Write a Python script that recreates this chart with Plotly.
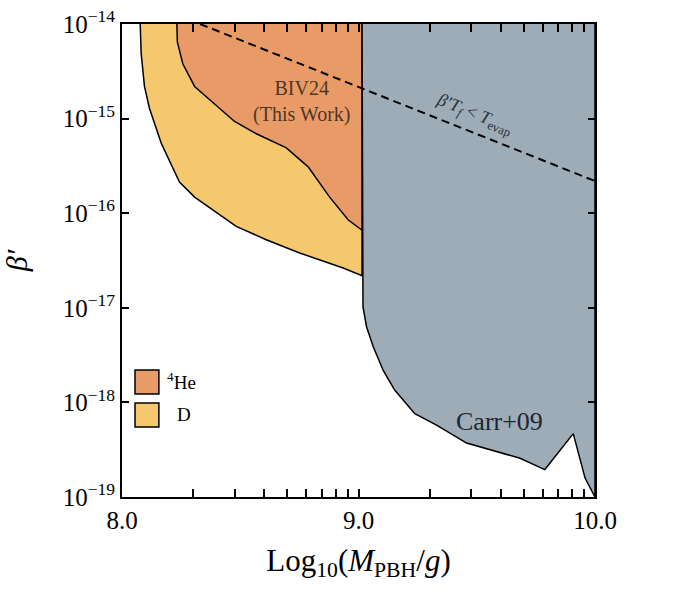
import numpy as np
import plotly.graph_objects as go

# ---- data (log10 M_PBH [g], log10 beta') ----
d_logm = [8.077, 8.081, 8.095, 8.116, 8.166, 8.243, 8.307, 8.483, 8.610, 8.751, 8.935, 9.015, 9.015]
d_logb = [-14.0, -14.31, -14.66, -14.89, -15.26, -15.67, -15.83, -16.14, -16.28, -16.42, -16.58, -16.66, -14.0]

he_logm = [8.232, 8.234, 8.257, 8.307, 8.476, 8.568, 8.695, 8.787, 8.878, 8.956, 9.015, 9.015]
he_logb = [-14.0, -14.19, -14.42, -14.66, -15.03, -15.16, -15.31, -15.51, -15.83, -16.07, -16.18, -14.0]

carr_logm = [9.015, 9.019, 9.034, 9.062, 9.104, 9.153, 9.238, 9.330, 9.457, 9.683, 9.788, 9.908, 9.958, 10.0, 10.0]
carr_logb = [-14.0, -16.99, -17.20, -17.41, -17.66, -17.87, -18.12, -18.24, -18.43, -18.59, -18.71, -18.33, -18.80, -19.0, -14.0]

evap_logm = [8.33, 10.0]
evap_logb = [-14.0, -15.66]

x_major = [8.0, 9.0, 10.0]
x_major_text = ["8.0", "9.0", "10.0"]
y_exps = [-19, -18, -17, -16, -15, -14]

C_HE = "#E99B67"
C_D = "#F6C86E"
C_CARR = "#9EACB8"
FONT = "'Liberation Serif', 'DejaVu Serif', serif"

def pw(v):
    return [10.0 ** e for e in v]

fig = go.Figure()
fig.add_trace(go.Scatter(x=d_logm, y=pw(d_logb), fill="toself", fillcolor=C_D,
                         mode="lines", line=dict(color="black", width=1.5),
                         showlegend=False, hoverinfo="skip"))
fig.add_trace(go.Scatter(x=he_logm, y=pw(he_logb), fill="toself", fillcolor=C_HE,
                         mode="lines", line=dict(color="black", width=1.5),
                         showlegend=False, hoverinfo="skip"))
fig.add_trace(go.Scatter(x=carr_logm, y=pw(carr_logb), fill="toself", fillcolor=C_CARR,
                         mode="lines", line=dict(color="black", width=1.5),
                         showlegend=False, hoverinfo="skip"))
fig.add_trace(go.Scatter(x=evap_logm, y=pw(evap_logb), mode="lines",
                         line=dict(color="black", width=2, dash="8px,5px"),
                         showlegend=False, hoverinfo="skip"))

minor_x = [np.log10(k * 10.0 ** e) for e in (8, 9) for k in range(2, 10)]

fig.update_xaxes(range=[8.0, 10.0], tickvals=x_major, ticktext=x_major_text, automargin=False,
                 ticks="inside", ticklen=8, tickwidth=1.8, tickcolor="black",
                 showline=True, linecolor="black", linewidth=2, mirror="ticks",
                 showgrid=False, zeroline=False,
                 tickfont=dict(family=FONT, size=25, color="black"),
                 minor=dict(tickvals=minor_x, ticks="inside", ticklen=8, tickwidth=1.8,
                            tickcolor="black", showgrid=False),
                 title=dict(text="Log<sub>10</sub>(<i>M</i><sub>PBH</sub>/<i>g</i>)",
                            font=dict(family=FONT, size=31, color="black"), standoff=16))
fig.update_yaxes(type="log", range=[-19, -14], tickvals=pw(y_exps), automargin=False,
                 ticktext=["10<sup>\u2212%d</sup>" % (-e) for e in y_exps],
                 ticks="inside", ticklen=7, tickwidth=1.8, tickcolor="black",
                 showline=True, linecolor="black", linewidth=2, mirror="ticks",
                 showgrid=False, zeroline=False,
                 tickfont=dict(family=FONT, size=25, color="black"),
                 title=dict(text="<i>\u03b2\u2032</i>", font=dict(family=FONT, size=30, color="black"),
                            standoff=32))

annos = [
    dict(x=8.759, y=-14.82, text="BIV24<br>(This Work)", font=dict(family=FONT, size=20, color="#4f3526")),
    dict(x=9.598, y=-18.20, text="Carr+09", font=dict(family=FONT, size=26, color="#1c2630")),
    dict(x=9.49, y=-14.96, text="<i>\u03b2\u2032T<sub>f</sub></i> &lt; <i>T</i><sub>evap</sub>",
         textangle=22, font=dict(family=FONT, size=18, color="#27313b")),
    dict(x=0.091, y=0.216, xref="paper", yref="paper", xanchor="left",
         text="<sup>4</sup>He", font=dict(family=FONT, size=19, color="black")),
    dict(x=0.113, y=0.147, xref="paper", yref="paper", xanchor="left",
         text="D", font=dict(family=FONT, size=19, color="black")),
]
for a in annos:
    a.setdefault("showarrow", False)
    fig.add_annotation(**a)

fig.add_shape(type="rect", xref="paper", yref="paper", x0=0.0275, x1=0.078, y0=0.2178, y1=0.2685,
              fillcolor=C_HE, line=dict(color="black", width=1.5))
fig.add_shape(type="rect", xref="paper", yref="paper", x0=0.0275, x1=0.078, y0=0.148, y1=0.1987,
              fillcolor=C_D, line=dict(color="black", width=1.5))

fig.update_layout(width=680, height=601, margin=dict(l=122, r=85, t=24, b=104),
                  plot_bgcolor="white", paper_bgcolor="white", showlegend=False,
                  font=dict(family=FONT),
                  xaxis2=dict(overlaying="x", anchor="y", side="top", range=[8.0, 10.0],
                              tickvals=x_major, ticks="inside", ticklen=8, tickwidth=1.8,
                              tickcolor="black", showticklabels=False, showgrid=False,
                              zeroline=False, showline=False,
                              minor=dict(tickvals=minor_x, ticks="inside", ticklen=8,
                                         tickwidth=1.8, tickcolor="black", showgrid=False)))

fig.write_html("out.html", config={"displayModeBar": False},
               post_script="document.body.style.margin='0';document.body.style.overflow='hidden';")
